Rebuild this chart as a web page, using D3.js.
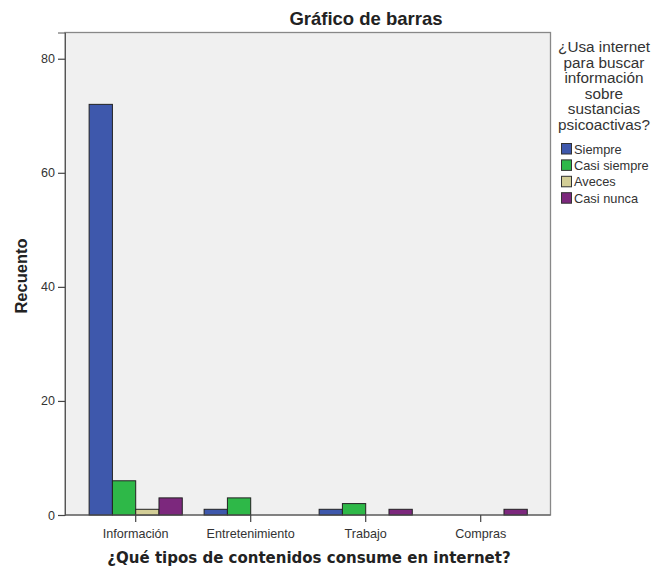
<!DOCTYPE html>
<html>
<head>
<meta charset="utf-8">
<script src="https://cdn.jsdelivr.net/npm/d3@7"></script>
<style>
  html, body { margin: 0; padding: 0; background: #ffffff; }
  svg { display: block; }
</style>
</head>
<body>
<svg id="chart" width="652" height="569"></svg>
<script>
const categories = ["Información", "Entretenimiento", "Trabajo", "Compras"];
const seriesNames = ["Siempre", "Casi siempre", "Aveces", "Casi nunca"];
const siempre     = [72, 1, 1, 0];
const casiSiempre = [6, 3, 2, 0];
const aveces      = [1, 0, 0, 0];
const casiNunca   = [3, 0, 1, 1];
const yTicks = [0, 20, 40, 60, 80];
const colors = ["#3e58ac", "#2eb848", "#d3ce97", "#7c287d"];
const legendTitle = ["¿Usa internet", "para buscar", "información", "sobre", "sustancias", "psicoactivas?"];

const seriesValues = [siempre, casiSiempre, aveces, casiNunca];
const data = [];
categories.forEach((c, i) => {
  seriesNames.forEach((s, j) => {
    data.push({ cat: c, series: s, value: seriesValues[j][i], color: colors[j] });
  });
});

const svg = d3.select("#chart");
const frame = { left: 65, right: 550.5, top: 32.5, bottom: 515 };

const y = d3.scaleLinear().domain([0, 84.6]).range([frame.bottom, frame.top]);
const x = d3.scaleBand().domain(categories).range([78.2, 538.2])
  .paddingInner(0.19).paddingOuter(0.095);
const xs = d3.scaleBand().domain(seriesNames).range([0, x.bandwidth()]);

// plot background
svg.append("rect")
  .attr("x", frame.left).attr("y", frame.top)
  .attr("width", frame.right - frame.left).attr("height", frame.bottom - frame.top)
  .attr("fill", "#f0f0f0").attr("stroke", "#888").attr("stroke-width", 1.3);

// bars
svg.append("g").selectAll("rect")
  .data(data.filter(d => d.value > 0))
  .join("rect")
  .attr("x", d => x(d.cat) + xs(d.series))
  .attr("y", d => y(d.value))
  .attr("width", xs.bandwidth())
  .attr("height", d => y(0) - y(d.value))
  .attr("fill", d => d.color)
  .attr("stroke", "#222")
  .attr("stroke-width", 1);

// y axis
const yAxis = svg.append("g")
  .attr("transform", `translate(${frame.left},0)`)
  .call(d3.axisLeft(y).tickValues(yTicks).tickSize(7).tickPadding(3).tickFormat(d3.format("d")));
yAxis.select(".domain").attr("stroke", "#555");
yAxis.selectAll(".tick line").attr("stroke", "#444").attr("stroke-width", 1.2);
yAxis.selectAll("text").attr("font-family", "Liberation Sans, Arial, sans-serif")
  .attr("font-size", 12.5).attr("fill", "#333");

// x axis
const xAxis = svg.append("g")
  .attr("transform", `translate(0,${frame.bottom})`)
  .call(d3.axisBottom(x).tickSize(7).tickPadding(7).tickSizeOuter(0));
xAxis.select(".domain").attr("stroke", "#555").attr("d", `M${frame.left},0H${frame.right}`);
xAxis.selectAll(".tick line").attr("stroke", "#444").attr("stroke-width", 1.2);
xAxis.selectAll("text").attr("font-family", "Liberation Sans, Arial, sans-serif")
  .attr("font-size", 12.6).attr("fill", "#333");

// title
svg.append("text")
  .attr("x", 366).attr("y", 24.5)
  .attr("text-anchor", "middle")
  .attr("font-family", "Liberation Sans, Arial, sans-serif")
  .attr("font-weight", "bold").attr("font-size", 18.5).attr("fill", "#222")
  .text("Gráfico de barras");

// y axis title
svg.append("text")
  .attr("transform", "translate(27,276) rotate(-90)")
  .attr("text-anchor", "middle")
  .attr("font-family", "Liberation Sans, Arial, sans-serif")
  .attr("font-weight", "bold").attr("font-size", 16.5).attr("fill", "#222")
  .text("Recuento");

// x axis title
svg.append("text")
  .attr("x", 309).attr("y", 563)
  .attr("text-anchor", "middle")
  .attr("font-family", "DejaVu Sans, Verdana, sans-serif")
  .attr("font-weight", "bold").attr("font-size", 15).attr("fill", "#222")
  .text("¿Qué tipos de contenidos consume en internet?");

// legend
const lg = svg.append("g");
lg.selectAll("text.lt")
  .data(legendTitle)
  .join("text")
  .attr("class", "lt")
  .attr("x", 604)
  .attr("y", (d, i) => 52 + i * 15.6)
  .attr("text-anchor", "middle")
  .attr("font-family", "Liberation Sans, Arial, sans-serif")
  .attr("font-size", 15.3).attr("fill", "#333")
  .text(d => d);

const items = lg.selectAll("g.item")
  .data(seriesNames)
  .join("g")
  .attr("class", "item")
  .attr("transform", (d, i) => `translate(561.5,${143.5 + i * 16.4})`);
items.append("rect")
  .attr("width", 10).attr("height", 10.5)
  .attr("fill", (d, i) => colors[i]).attr("stroke", "#333");
items.append("text")
  .attr("x", 12.5).attr("y", 10)
  .attr("font-family", "Liberation Sans, Arial, sans-serif")
  .attr("font-size", 12.8).attr("fill", "#333")
  .text(d => d);
</script>
</body>
</html>
